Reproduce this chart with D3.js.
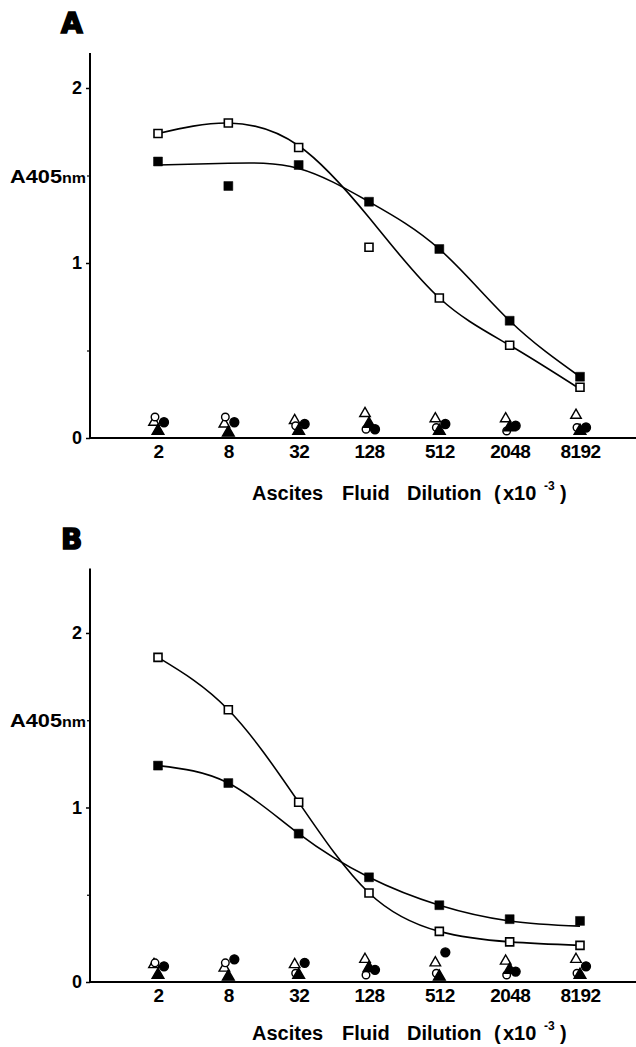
<!DOCTYPE html>
<html><head><meta charset="utf-8">
<script src="https://cdn.jsdelivr.net/npm/d3@7"></script>
<style>
html,body{margin:0;padding:0;background:#fff;}
svg{display:block;}
text{font-family:"Liberation Sans",Arial,sans-serif;font-weight:bold;fill:#000;}
</style></head>
<body>
<svg id="chart" width="636" height="1047"></svg>
<script>
// ---- data ----
const dilutions = [2, 8, 32, 128, 512, 2048, 8192];
const dilutionLabels = ["2", "8", "32", "128", "512", "2048", "8192"];
const yTickValues = [0, 1, 2];
const yMinorTicks = [0.5, 1.5];

// Panel A
const A_openSquare   = [1.74, 1.80, 1.66, 1.09, 0.80, 0.53, 0.29];
const A_filledSquare = [1.58, 1.44, 1.56, 1.35, 1.08, 0.67, 0.35];
const A_openFit      = [1.74, 1.80, 1.67, 1.26, 0.80, 0.53, 0.28];
const A_filledFit    = [1.56, 1.57, 1.54, 1.35, 1.08, 0.67, 0.35];
const A_openCircle   = [0.12, 0.12, 0.07, 0.05, 0.06, 0.04, 0.06];
const A_openTriangle = [0.09, 0.08, 0.10, 0.14, 0.11, 0.11, 0.13];
const A_filledCircle = [0.09, 0.09, 0.08, 0.05, 0.08, 0.07, 0.06];
const A_filledTriangle=[0.04, 0.03, 0.04, 0.08, 0.04, 0.06, 0.04];

// Panel B
const B_openSquare   = [1.86, 1.56, 1.03, 0.51, 0.29, 0.23, 0.21];
const B_filledSquare = [1.24, 1.14, 0.85, 0.60, 0.44, 0.36, 0.35];
const B_openFit      = [1.86, 1.56, 1.03, 0.51, 0.29, 0.23, 0.21];
const B_filledFit    = [1.24, 1.14, 0.85, 0.60, 0.44, 0.35, 0.32];
const B_openCircle   = [0.11, 0.11, 0.05, 0.04, 0.05, 0.04, 0.05];
const B_openTriangle = [0.10, 0.08, 0.10, 0.13, 0.11, 0.12, 0.13];
const B_filledCircle = [0.09, 0.13, 0.11, 0.07, 0.17, 0.06, 0.09];
const B_filledTriangle=[0.04, 0.03, 0.04, 0.08, 0.03, 0.07, 0.04];

const svg = d3.select("#chart");

function drawPanel(p) {
  const g = svg.append("g");
  const x = d3.scaleLog().base(2).domain([2, 8192]).range([158, 580]);
  const y = d3.scaleLinear().domain([0, p.yMax]).range([p.y0, p.yTop]);
  const axisX = 90;

  // panel letter
  g.append("text").attr("x", 61).attr("y", p.letterY)
    .attr("font-size", 28).style("stroke", "#000").style("stroke-width", 1.6)
    .style("font-family", "'DejaVu Sans',sans-serif")
    .text(p.letter);

  // y axis
  const yAxis = d3.axisLeft(y).tickValues(yTickValues).tickSize(4).tickPadding(4)
    .tickFormat(d3.format("d"));
  const ya = g.append("g").attr("transform", `translate(${axisX},0)`).call(yAxis);
  ya.select(".domain").remove();
  ya.selectAll(".tick line").attr("stroke", "#000").attr("stroke-width", 1.5);
  ya.selectAll(".tick text").attr("font-size", 18).attr("font-family", "Liberation Sans, Arial, sans-serif")
    .attr("font-weight", "bold").attr("fill", "#000");
  const yMinor = d3.axisLeft(y).tickValues(yMinorTicks).tickSize(3).tickFormat("");
  const ym = g.append("g").attr("transform", `translate(${axisX},0)`).call(yMinor);
  ym.select(".domain").remove();
  ym.selectAll(".tick line").attr("stroke", "#000").attr("stroke-width", 1.2);
  g.append("line").attr("x1", axisX).attr("x2", axisX)
    .attr("y1", y(0)).attr("y2", y(p.yMax))
    .attr("stroke", "#000").attr("stroke-width", 2);

  // y label
  g.append("text").attr("x", 10).attr("y", y(1.5) + 7).attr("font-size", 19)
    .attr("textLength", 52).attr("lengthAdjust", "spacingAndGlyphs").text("A405");
  g.append("text").attr("x", 62).attr("y", y(1.5) + 7).attr("font-size", 14)
    .attr("textLength", 24).attr("lengthAdjust", "spacingAndGlyphs").text("nm");

  // x axis
  const xAxis = d3.axisBottom(x).tickValues(dilutions).tickSize(0).tickPadding(7)
    .tickFormat((d, i) => dilutionLabels[i]);
  const xa = g.append("g").attr("transform", `translate(0,${y(0)})`).call(xAxis);
  xa.select(".domain").remove();
  xa.selectAll(".tick text").attr("font-size", 19).attr("font-family", "Liberation Sans, Arial, sans-serif")
    .attr("font-weight", "bold").attr("fill", "#000").attr("letter-spacing", -0.6);
  g.append("line").attr("x1", axisX).attr("x2", 636)
    .attr("y1", y(0)).attr("y2", y(0))
    .attr("stroke", "#000").attr("stroke-width", 2);

  // x title
  const xt = g.append("text").attr("y", p.titleY).attr("font-size", 20);
  xt.append("tspan").attr("x", 252).text("Ascites");
  xt.append("tspan").attr("x", 342).text("Fluid");
  xt.append("tspan").attr("x", 407).text("Dilution");
  xt.append("tspan").attr("x", 494).text("(");
  xt.append("tspan").attr("x", 503).text("x10");
  xt.append("tspan").attr("x", 544).attr("dy", -10).attr("font-size", 12).text("-3");
  xt.append("tspan").attr("x", 560).attr("dy", 10).text(")");

  // fitted curves
  const line = d3.line().x((d, i) => x(dilutions[i])).y(d => y(d)).curve(d3.curveNatural);
  [p.openFit, p.filledFit].forEach(arr => {
    g.append("path").datum(arr).attr("d", line)
      .attr("fill", "none").attr("stroke", "#000").attr("stroke-width", 1.6);
  });

  // control markers near zero
  const sym = (type, size) => d3.symbol().type(type).size(size)();
  const ctrl = [
    {vals: p.openTriangle,  type: d3.symbolTriangle, size: 48, fill: "#fff", dx: -4},
    {vals: p.openCircle,    type: d3.symbolCircle,   size: 45, fill: "#fff", dx: -3},
    {vals: p.filledTriangle,type: d3.symbolTriangle, size: 60, fill: "#000", dx: 0},
    {vals: p.filledCircle,  type: d3.symbolCircle,   size: 62, fill: "#000", dx: 6}
  ];
  ctrl.forEach(s => {
    g.append("g").selectAll("path").data(s.vals).join("path")
      .attr("d", sym(s.type, s.size))
      .attr("transform", (d, i) => `translate(${x(dilutions[i]) + s.dx},${y(d)})`)
      .attr("fill", s.fill).attr("stroke", "#000").attr("stroke-width", 1.4);
  });

  // squares
  g.append("g").selectAll("path").data(p.filledSquare).join("path")
    .attr("d", sym(d3.symbolSquare, 80))
    .attr("transform", (d, i) => `translate(${x(dilutions[i])},${y(d)})`)
    .attr("fill", "#000").attr("stroke", "#000").attr("stroke-width", 0.5);
  g.append("g").selectAll("path").data(p.openSquare).join("path")
    .attr("d", sym(d3.symbolSquare, 64))
    .attr("transform", (d, i) => `translate(${x(dilutions[i])},${y(d)})`)
    .attr("fill", "#fff").attr("stroke", "#000").attr("stroke-width", 1.6);
}

drawPanel({letter: "A", letterY: 33, yMax: 2.2, y0: 438, yTop: 53, titleY: 500,
  openSquare: A_openSquare, filledSquare: A_filledSquare,
  openFit: A_openFit, filledFit: A_filledFit,
  openCircle: A_openCircle, openTriangle: A_openTriangle,
  filledCircle: A_filledCircle, filledTriangle: A_filledTriangle});

drawPanel({letter: "B", letterY: 549, yMax: 2.37, y0: 982, yTop: 568.4, titleY: 1040,
  openSquare: B_openSquare, filledSquare: B_filledSquare,
  openFit: B_openFit, filledFit: B_filledFit,
  openCircle: B_openCircle, openTriangle: B_openTriangle,
  filledCircle: B_filledCircle, filledTriangle: B_filledTriangle});
</script>
</body></html>
